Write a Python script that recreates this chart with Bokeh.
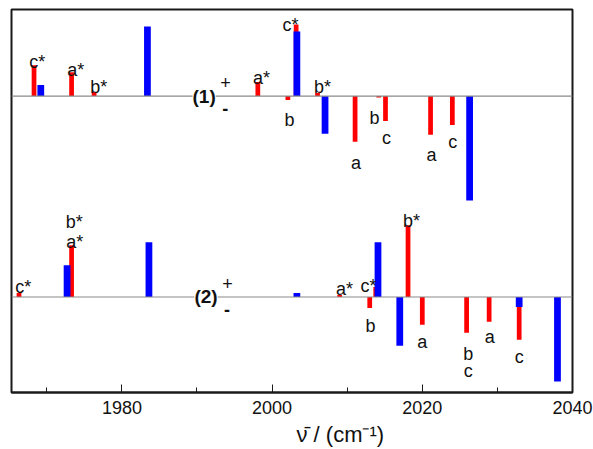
from bokeh.plotting import figure
from bokeh.models import Range1d, Span, Label, FixedTicker, ColumnDataSource, Title
from bokeh.core.properties import value
from bokeh.embed import file_html
from bokeh.resources import INLINE

# ---------------- data (wavenumber / cm-1, relative intensity) ----------------
top_red_x = [1968.3, 1973.3, 1976.3, 1998.1, 2002.1, 2003.2, 2006.05, 2011.05, 2014.2, 2015.1, 2021.1, 2024.0]
top_red_y = [31, 24, 4, 14, -4, 72, 3, -46, -1.5, -25, -39, -29]
top_blue_x = [1969.2, 1983.4, 2003.3, 2007.05, 2026.3]
top_blue_y = [11, 70, 65, -38, -105]

bot_red_x = [1966.3, 1973.3, 2009.0, 2013.0, 2013.8, 2018.1, 2020.0, 2025.9, 2028.9, 2032.9]
bot_red_y = [4, 52, 2, -11, 10, 72, -28, -36, -25, -43]
bot_blue_x = [1972.7, 1983.6, 2003.3, 2014.1, 2017.0, 2032.9, 2038.0]
bot_blue_y = [32, 55, 4, 55, -49, -10, -85]

# annotation letters (text, wavenumber, offset from the spectrum baseline)
top_lbl_text = ["c*", "a*", "b*", "a*", "b", "c*", "b*", "a", "b", "c", "a", "c"]
top_lbl_x = [1968.73, 1973.85, 1976.91, 1998.60, 2002.32, 2002.46, 2006.71, 2011.17, 2013.63, 2015.23, 2021.21, 2024.07]
top_lbl_y = [34, 26, 9, 18, -24, 71, 9, -67, -22, -42, -59, -46]

bot_lbl_text = ["c*", "b*", "a*", "a*", "c*", "b", "b*", "a", "b", "c", "a", "c"]
bot_lbl_x = [1966.87, 1973.65, 1973.72, 2009.64, 2012.83, 2013.10, 2018.55, 2020.01, 2026.13, 2026.13, 2028.99, 2032.92]
bot_lbl_y = [10, 75, 55, 8, 11, -29, 76, -45, -57, -74, -40, -60]

x_ticks = [1980, 2000, 2020, 2040]
x_minor = [1970, 1990, 2010, 2030]
x_label = "\u03bd\u0304 / (cm\u207b\u00b9)"

# ---------------- layout constants ----------------
BASE1 = 298   # baseline of spectrum (1)
BASE2 = 96    # baseline of spectrum (2)
RED = "#ff0000"
BLUE = "#0000ff"
FONT = "Liberation Sans"

p = figure(width=593, height=449, x_range=Range1d(1965.3, 2040), y_range=Range1d(0, 385),
           output_backend="svg", toolbar_location=None, y_axis_location=None,
           min_border_left=11, min_border_right=21, min_border_top=9, min_border_bottom=55)
p.xgrid.visible = False
p.ygrid.visible = False
p.outline_line_color = "#1a1a1a"
p.outline_line_width = 2
p.outline_line_alpha = 1

ax = p.xaxis[0]
ax.ticker = FixedTicker(ticks=x_ticks, minor_ticks=x_minor)
ax.major_tick_in = 8
ax.major_tick_out = 0
ax.minor_tick_in = 5
ax.minor_tick_out = 0
ax.axis_line_width = 2
ax.axis_line_color = "#1a1a1a"
ax.major_tick_line_color = "#1a1a1a"
ax.minor_tick_line_color = "#1a1a1a"
ax.major_label_text_font = FONT
ax.major_label_text_font_size = "18px"
ax.major_label_text_color = "#111111"
ax.major_label_standoff = 8

# axis title, placed right of centre as in the original
p.add_layout(Title(text=x_label, align="left", offset=285, text_font=FONT,
                   text_font_size="22px", text_font_style="normal", text_color="#111111",
                   standoff=6, text_line_height=0.9), "below")

# baselines
for b in (BASE1, BASE2):
    p.add_layout(Span(location=b, dimension="width", line_color="#8a8a8a", line_width=1.2))

def bars(xs, ys, base, color, w):
    src = ColumnDataSource(dict(x=xs, top=[base + v for v in ys]))
    p.vbar(x="x", top="top", bottom=base, width=w, source=src,
           fill_color=color, line_color=None)

bars(top_red_x, top_red_y, BASE1, RED, 0.63)
bars(bot_red_x, bot_red_y, BASE2, RED, 0.63)
bars(top_blue_x, top_blue_y, BASE1, BLUE, 0.9)
bars(bot_blue_x, bot_blue_y, BASE2, BLUE, 0.9)

def letters(txt, xs, ys, base):
    src = ColumnDataSource(dict(x=xs, y=[base + v for v in ys], t=txt))
    p.text(x="x", y="y", text="t", source=src, text_font=value(FONT),
           text_font_size="18px", text_align="center", text_baseline="alphabetic",
           text_color="#111111")

letters(top_lbl_text, top_lbl_x, top_lbl_y, BASE1)
letters(bot_lbl_text, bot_lbl_x, bot_lbl_y, BASE2)

# spectrum tags
for tag, base, dx in (("(1)", BASE1, 1990.95), ("(2)", BASE2, 1991.2)):
    p.add_layout(Label(x=dx, y=base, text=tag, text_font=FONT, text_font_size="19px",
                       text_font_style="bold", text_align="center", text_baseline="middle",
                       text_color="#111111", background_fill_color="white"))
    p.add_layout(Label(x=dx + 2.85, y=base + 13.5, text="+", text_font=FONT, text_font_size="18px",
                       text_align="center", text_baseline="middle", text_color="#111111"))
    p.add_layout(Label(x=dx + 2.8, y=base - 12.5, text="-", text_font=FONT, text_font_size="18px",
                       text_font_style="bold", text_align="center", text_baseline="middle",
                       text_color="#111111"))

open("out.html", "w").write(file_html(p, INLINE))
